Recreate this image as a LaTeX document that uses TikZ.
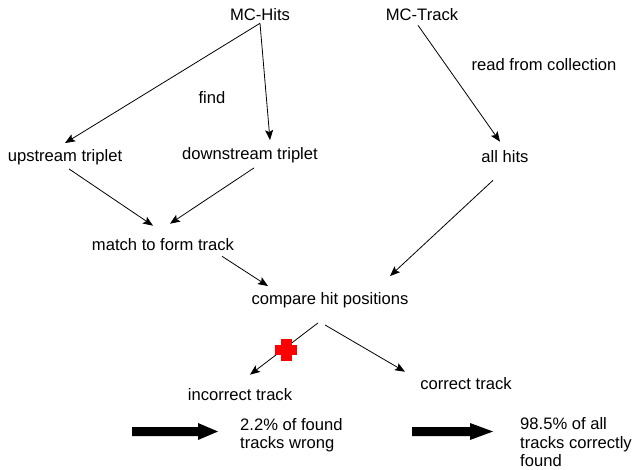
\documentclass[tikz,border=0pt]{standalone}
\usepackage{fontspec}
\setmainfont{Liberation Sans}
\usetikzlibrary{arrows.meta}
\begin{document}
\begin{tikzpicture}[x=1pt,y=-1pt,
  lbl/.style={inner sep=2pt,font=\fontsize{16.6}{18.5}\selectfont},
  arr/.style={-{Stealth[length=10pt,width=8pt,inset=2pt]},line width=0.8pt},
  blockarrow/.style={fill=black,draw=none},
  redcross/.style={fill=red,draw=none}]
\useasboundingbox (0,0) rectangle (635,469);
\node[lbl] (hits) at (260,15) {MC-Hits};
\node[lbl] (track) at (422,15) {MC-Track};
\node[lbl] (read) at (544,65) {read from collection};
\node[lbl] (find) at (212,98) {find};
\node[lbl] (up) at (65,157) {upstream triplet};
\node[lbl] (down) at (250,155) {downstream triplet};
\node[lbl] (all) at (505,157) {all hits};
\node[lbl] (match) at (163,245) {match to form track};
\node[lbl] (cmp) at (330,300) {compare hit positions};
\node[lbl] (inc) at (240,395) {incorrect track};
\node[lbl] (cor) at (466,384) {correct track};
\node[lbl,anchor=north west,align=left] (wrong) at (238,416) {2.2\% of found\\tracks wrong};
\node[lbl,inner sep=0pt,anchor=north west,align=left] (right) at (520,417.5) {98.5\% of all\\tracks correctly\\found};

\draw[arr] (hits.south) -- ([yshift=4pt]up.north);
\draw[arr] (hits.south) -- ([xshift=20pt,yshift=5pt]down.north);
\draw[arr] ([xshift=4pt,yshift=-2pt]up.south) -- ([xshift=-10pt,yshift=11pt]match.north);
\draw[arr] ([xshift=4pt,yshift=-3pt]down.south) -- ([xshift=7pt,yshift=13pt]match.north);
\draw[arr] ([xshift=-4pt,yshift=-2pt]track.south) -- ([xshift=-5pt,yshift=7pt]all.north);
\draw[arr] ([xshift=-12pt,yshift=-15pt]all.south) -- ([xshift=60pt,yshift=14pt]cmp.north);
\draw[arr] ([xshift=59pt,yshift=-3pt]match.south) -- ([xshift=-62pt,yshift=4pt]cmp.north);
\draw[arr] ([xshift=-12pt,yshift=-13pt]cmp.south) -- ([xshift=10pt,yshift=12pt]inc.north);
\draw[arr] ([xshift=-5pt,yshift=-15pt]cmp.south) -- ([xshift=-61pt,yshift=4pt]cor.north);

% red cross
\fill[redcross] (275,344.5) rectangle (297,354.5);
\fill[redcross] (280.5,338.5) rectangle (291.5,360.5);

% block arrows
\coordinate (b1) at (132,431.5);
\coordinate (b2) at (412,431.5);
\fill[blockarrow] (b1) ++(0,-4.5) -- ++(66,0) -- ++(0,-4) -- ++(20,8.5) -- ++(-20,8.5) -- ++(0,-4) -- ++(-66,0) -- cycle;
\fill[blockarrow] (b2) ++(0,-4.5) -- ++(58,0) -- ++(0,-4) -- ++(23,8.5) -- ++(-23,8.5) -- ++(0,-4) -- ++(-58,0) -- cycle;
\end{tikzpicture}
\end{document}
